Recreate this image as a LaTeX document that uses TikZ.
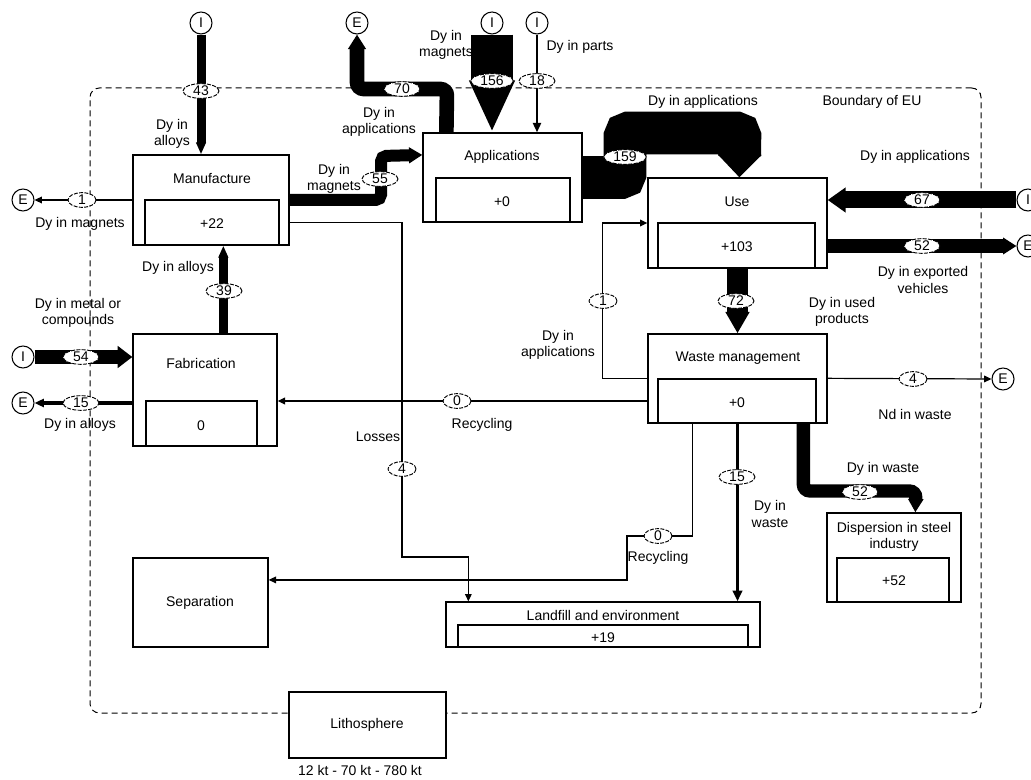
\documentclass[tikz,border=0pt]{standalone}
\usepackage{fontspec}
\setmainfont{Liberation Sans}
\usetikzlibrary{arrows.meta,shapes.geometric,calc,fit}
\begin{document}
\begin{tikzpicture}[x=0.75pt,y=-0.75pt,
  every node/.style={font=\fontsize{10.5}{12.5}\selectfont},
  box/.style={draw, line width=1pt, fill=white, inner sep=0pt, rectangle},
  lbl/.style={align=center, inner sep=0pt},
  val/.style={draw, ellipse, dash pattern=on 3pt off 1pt, line width=0.7pt, fill=white, inner sep=0pt, minimum height=11pt, minimum width=27pt},
  val1/.style={val, minimum width=21pt},
  val3/.style={val, minimum width=32pt},
  port/.style={draw, circle, fill=white, line width=0.8pt, minimum size=16.5pt, inner sep=0pt},
  thinflow/.style={draw, line width=0.9pt, -{Triangle[width=5pt,length=5.5pt]}},
  border/.style={draw, dash pattern=on 4.5pt off 3pt, line width=0.75pt, rounded corners=7pt, inner sep=0pt}
]
\useasboundingbox (0,0) rectangle (1031,780);
\fill[white] (0,0) rectangle (1031,780);

% boundary of EU
\node[border, fit={(90,88) (981,713)}] (eu) {};

% boxes
\node[box, fit={(133,155) (289,245)}] (manuf) {};
\node[box, fit={(145,200) (279,245)}] (manufI) {};
\node[box, fit={(423,133) (582,222)}] (app) {};
\node[box, fit={(436,178) (570,222)}] (appI) {};
\node[box, fit={(648,178) (827,268)}] (use) {};
\node[box, fit={(658,223) (815,268)}] (useI) {};
\node[box, fit={(648,334) (827,423)}] (waste) {};
\node[box, fit={(658,379) (816,423)}] (wasteI) {};
\node[box, fit={(133,334) (277,446)}] (fab) {};
\node[box, fit={(146,401) (257,446)}] (fabI) {};
\node[box, fit={(133,558) (268,647)}] (sep) {};
\node[box, fit={(446,602) (760,647)}] (land) {};
\node[box, fit={(458,625) (748,647)}] (landI) {};
\node[box, fit={(827,513) (961,602)}] (disp) {};
\node[box, fit={(837,558) (949,602)}] (dispI) {};
\node[box, fit={(289,692) (446,758)}] (lith) {};

% import / export ports
\node[port] (iT1) at (201,23) {I};
\node[port] (eL1) at (23,200) {E};
\node[port] (eT) at (357,23) {E};
\node[port] (iT2) at (492,23) {I};
\node[port] (iT3) at (537,23) {I};
\node[port] (iR) at (1028,200) {I};
\node[port] (eR1) at (1028,246) {E};
\node[port] (eR2) at (1003,379) {E};
\node[port] (iL) at (23,357) {I};
\node[port] (eL2) at (23,403) {E};

% flows
\draw[line width=6.75pt, -{Triangle[width=7pt,length=9pt]}] (iT1.south) -- (iT1 |- manuf.north);
\draw[thinflow] (manuf.west) -- (eL1.east);
\draw[line width=9pt, rounded corners=4pt, -{Triangle[width=11.5pt,length=10pt]}] (manuf.east) -- (381,200) -- (381,156) -- ($(app.north west)!0.25!(app.south west)$);
\draw[line width=11pt, rounded corners=5pt, -{Triangle[width=13pt,length=11pt]}] ($(app.north west)+(24,0)$) -- (447,89) -- (357,89) -- (eT.south);
\draw[line width=31.5pt, -{Triangle[width=31.5pt,length=39pt]}] (iT2.south) -- (iT2 |- app.north);
\draw[line width=1.5pt, -{Triangle[width=6pt,length=7pt]}] (iT3.south) -- (iT3 |- app.north);
\draw[line width=32pt, rounded corners=3pt, -{Triangle[width=32pt,length=17pt]}] (app.east) -- (625,177.5) -- (625,133) -- (740,133) -- ($(use.north west)+(92,0)$);
\draw[line width=12.75pt, -{Triangle[width=18pt,length=13.5pt]}] (iR.west) -- (iR -| use.east);
\draw[line width=11pt, -{Triangle[width=12pt,length=10pt]}] (use.east |- eR1) -- (eR1.west);
\draw[line width=16pt, -{Triangle[width=17pt,length=16pt]}] (use.south) -- (waste.north);
\draw[thinflow] (waste.west |- wasteI.north) -| ($(use.west)+(-45,0)$) -- (use.west);
\draw[thinflow] (waste.west |- wasteI.center) -- (fab.east |- wasteI.center);
\draw[thinflow] (manuf.east |- manufI.center) -| (402,557) -| ($(land.north west)+(23,0)$);
\draw[thinflow] ($(waste.south west)+(45,0)$) |- (627,536) |- ($(sep.north east)!0.25!(sep.south east)$);
\draw[line width=2.25pt, -{Triangle[width=7pt,length=8pt]}] (waste.south) -- (waste.south |- land.north);
\draw[line width=10pt, rounded corners=5pt, -{Triangle[width=11pt,length=10pt]}] ($(waste.south west)+(156,0)$) |- (916,491) -- ($(disp.north west)+(89,0)$);
\draw[thinflow] (waste.east |- wasteI.north) -- (eR2.west);
\draw[line width=6.75pt, -{Triangle[width=7pt,length=9pt]}] ($(fab.north west)+(91,0)$) -- ($(manuf.south west)+(91,0)$);
\draw[line width=11pt, -{Triangle[width=16pt,length=11pt]}] (iL.east) -- (iL -| fab.west);
\draw[line width=3.5pt, -{Triangle[width=6pt,length=7pt]}] (fab.west |- eL2) -- (eL2.east);

% values
\node[val] (v43) at (201,91) {43};
\node[val1] (v1a) at (82,200) {1};
\node[val] (v55) at (380,179) {55};
\node[val] (v70) at (402,89) {70};
\node[val3] (v156) at (492,81) {156};
\node[val] (v18) at (537,81) {18};
\node[val3] (v159) at (625,157) {159};
\node[val] (v67) at (922,200) {67};
\node[val] (v52a) at (922,246) {52};
\node[val] (v72) at (736,301) {72};
\node[val1] (v1b) at (603,301) {1};
\node[val1] (v0a) at (457,401) {0};
\node[val1] (v4a) at (402,469) {4};
\node[val1] (v0b) at (658,536) {0};
\node[val] (v15a) at (737,477) {15};
\node[val] (v52b) at (860,492) {52};
\node[val1] (v4b) at (913,379) {4};
\node[val] (v39) at (224,291) {39};
\node[val] (v54) at (81,357) {54};
\node[val] (v15b) at (81,403) {15};

% box texts
\node[lbl] (tManuf) at (212,179) {Manufacture};
\node[lbl] (tManufV) at (212,224) {+22};
\node[lbl] (tApp) at (502,157) {Applications};
\node[lbl] (tAppV) at (502,202) {+0};
\node[lbl] (tUse) at (737,202) {Use};
\node[lbl] (tUseV) at (737,247) {+103};
\node[lbl] (tWaste) at (738,358) {Waste management};
\node[lbl] (tWasteV) at (737,403) {+0};
\node[lbl] (tFab) at (201,363) {Fabrication};
\node[lbl] (tFabV) at (201,426) {0};
\node[lbl] (tSep) at (200,603) {Separation};
\node[lbl] (tLand) at (603,615) {Landfill and environment};
\node[lbl] (tLandV) at (603,638) {+19};
\node[lbl] (tDisp) at (894,537) {Dispersion in steel\\industry};
\node[lbl] (tDispV) at (894,581) {+52};
\node[lbl] (tLith) at (367,725) {Lithosphere};
\node[lbl] (tLithR) at (360,770) {12 kt - 70 kt - 780 kt};

% flow texts
\node[lbl] (l43) at (172,134) {Dy in\\alloys};
\node[lbl] (l1a) at (80,224) {Dy in magnets};
\node[lbl] (l55) at (334,179) {Dy in\\magnets};
\node[lbl] (l70) at (379,122) {Dy in\\applications};
\node[lbl] (l156) at (446,45) {Dy in\\magnets};
\node[lbl] (l18) at (580,47) {Dy in parts};
\node[lbl] (l159) at (703,102) {Dy in applications};
\node[lbl] (lEU) at (872,102) {Boundary of EU};
\node[lbl] (l67) at (915,157) {Dy in applications};
\node[lbl] (l52a) at (923,280) {Dy in exported\\vehicles};
\node[lbl] (l72) at (842,312) {Dy in used\\products};
\node[lbl] (l1b) at (558,345) {Dy in\\applications};
\node[lbl] (l4b) at (915,414) {Nd in waste};
\node[lbl] (l0a) at (482,425) {Recycling};
\node[lbl] (l4a) at (378,437) {Losses};
\node[lbl] (l39) at (178,268) {Dy in alloys};
\node[lbl] (l54) at (78,313) {Dy in metal or\\compounds};
\node[lbl] (l15b) at (80,425) {Dy in alloys};
\node[lbl] (l0b) at (658,558) {Recycling};
\node[lbl] (l15a) at (770,514) {Dy in\\waste};
\node[lbl] (l52b) at (883,469) {Dy in waste};
\end{tikzpicture}
\end{document}
